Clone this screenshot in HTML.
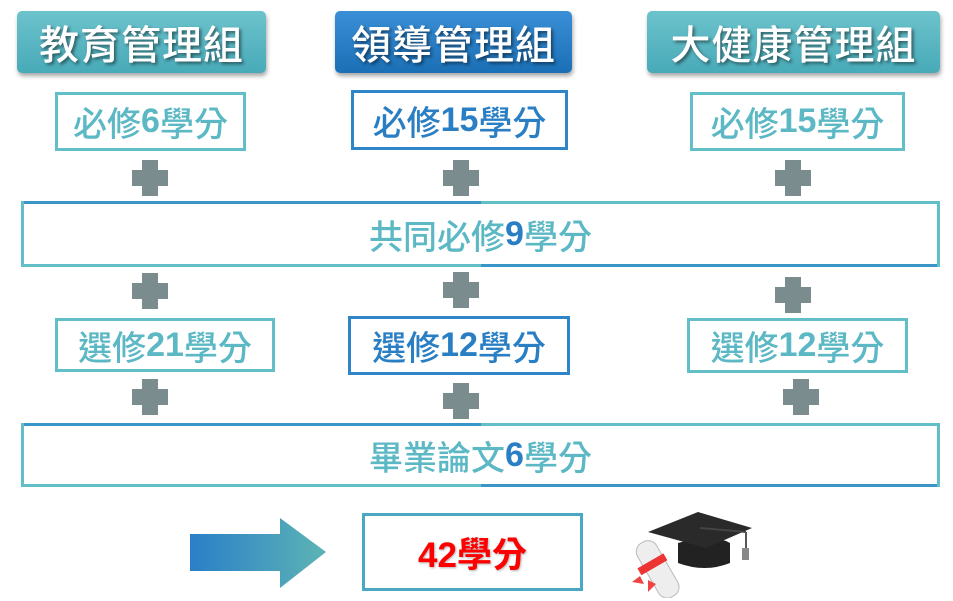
<!DOCTYPE html>
<html><head><meta charset="utf-8"><style>
body{margin:0;width:953px;height:601px;background:#fff;position:relative;overflow:hidden;font-family:"Liberation Sans","Noto Sans CJK TC",sans-serif;font-weight:500}
b{font-weight:bold}
.a{position:absolute;box-sizing:border-box;display:flex;align-items:center;justify-content:center}
.h{color:#fff;font-size:40px;border-radius:5px;text-shadow:2px 2px 3px rgba(0,0,0,.5);box-shadow:1px 3px 4px rgba(0,0,0,.35);letter-spacing:1px}
.ht{background:linear-gradient(#6cc3cc,#48aab8)}
.hb{background:linear-gradient(#3a8fd6,#1a6fb5)}
.t{border:3px solid #62bfc8;color:#5bb8c4;font-size:34px}
.b{border:3px solid #2e86c8;color:#2a7fc4;font-size:34px}
.p{position:absolute;width:36px;height:36px}
.p:before,.p:after{content:"";position:absolute;background:#7b8c8e}
.p:before{left:10px;top:0;width:16px;height:36px}
.p:after{left:0;top:10px;width:36px;height:16px}
.w{border-left:3px solid #62bfc8;border-right:3px solid #62bfc8;color:#5bb8c4;font-size:34px}
.w .l{position:absolute;height:3px;width:50%}
</style></head><body>
<div class="a h ht" style="left:17px;top:11px;width:249px;height:62px">教育管理組</div>
<div class="a h hb" style="left:335px;top:11px;width:237px;height:62px">領導管理組</div>
<div class="a h ht" style="left:647px;top:11px;width:293px;height:62px">大健康管理組</div>

<div class="a t" style="left:55px;top:92px;width:191px;height:59px">必修<b>6</b>學分</div>
<div class="a b" style="left:351px;top:90px;width:217px;height:60px">必修<b>15</b>學分</div>
<div class="a t" style="left:690px;top:92px;width:215px;height:59px">必修<b>15</b>學分</div>

<div class="p" style="left:132px;top:160px"></div>
<div class="p" style="left:443px;top:160px"></div>
<div class="p" style="left:775px;top:160px"></div>

<div class="a w" style="left:21px;top:201px;width:919px;height:66px">
<div class="l" style="left:0;top:0;background:#3a96c8"></div><div class="l" style="right:0;top:0;background:#62bfc8"></div>
<div class="l" style="left:0;bottom:0;background:#62bfc8"></div><div class="l" style="right:0;bottom:0;background:#3a96c8"></div>
共同必修<b style="color:#2a7fc4">9</b>學分</div>

<div class="p" style="left:132px;top:273px"></div>
<div class="p" style="left:443px;top:272px"></div>
<div class="p" style="left:775px;top:277px"></div>

<div class="a t" style="left:55px;top:318px;width:220px;height:54px">選修<b>21</b>學分</div>
<div class="a b" style="left:348px;top:316px;width:222px;height:59px">選修<b>12</b>學分</div>
<div class="a t" style="left:687px;top:318px;width:221px;height:55px">選修<b>12</b>學分</div>

<div class="p" style="left:132px;top:379px"></div>
<div class="p" style="left:443px;top:383px"></div>
<div class="p" style="left:783px;top:379px"></div>

<div class="a w" style="left:21px;top:423px;width:919px;height:64px">
<div class="l" style="left:0;top:0;background:#3a96c8"></div><div class="l" style="right:0;top:0;background:#62bfc8"></div>
<div class="l" style="left:0;bottom:0;background:#62bfc8"></div><div class="l" style="right:0;bottom:0;background:#3a96c8"></div>
畢業論文<b style="color:#2a7fc4">6</b>學分</div>

<svg style="position:absolute;left:188px;top:514px" width="150" height="80">
<defs><linearGradient id="g" x1="0" x2="1"><stop offset="0" stop-color="#2a7fc8"/><stop offset="1" stop-color="#5db4b4"/></linearGradient></defs>
<polygon points="2,20 92,20 92,4 138,38 92,74 92,57 2,57" fill="url(#g)"/>
</svg>
<div class="a" style="left:362px;top:513px;width:221px;height:78px;border:3px solid #4aa8c4;color:#f00;font-size:35px;font-weight:bold;text-shadow:1px 1px 2px rgba(0,0,0,.3)">42學分</div>

<svg style="position:absolute;left:628px;top:508px" width="135" height="90">
<rect x="18" y="30" width="22" height="62" rx="10" transform="rotate(-30 30 60)" fill="#eee" stroke="#bbb"/>
<rect x="12" y="50" width="30" height="8" transform="rotate(-30 30 60)" fill="#e33"/>
<path d="M12 68 l-8 6 l12 2z M20 72 l0 12 l8 -8z" fill="#e44"/>
<path d="M50 35 q35 -10 52 0 l0 20 q-25 10 -52 0z" fill="#222"/>
<polygon points="20,24 70,4 124,20 78,40" fill="#2a2a2a"/>
<line x1="72" y1="20" x2="118" y2="24" stroke="#444" stroke-width="2"/>
<line x1="118" y1="24" x2="118" y2="40" stroke="#555" stroke-width="2"/>
<rect x="114" y="40" width="7" height="12" fill="#888"/>
</svg>
</body></html>
